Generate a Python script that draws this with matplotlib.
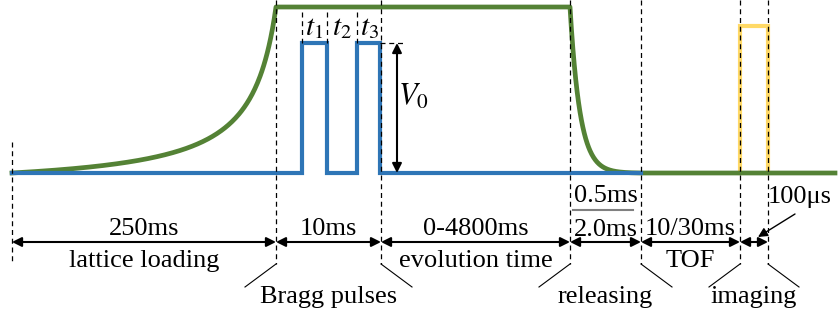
import numpy as np
import matplotlib.pyplot as plt

plt.rcParams['font.family'] = ['Liberation Serif', 'DejaVu Serif']
plt.rcParams['mathtext.fontset'] = 'stix'

# schematic timeline (drawing units, left to right)
phase_edges = [12, 276, 381, 570, 641, 740, 768]
pulse_edges = [302, 327, 357, 380]
end_x = 835

# signal levels (drawing units, top = 0)
base_level = 173
lattice_level = 7
bragg_level = 43
image_level = 26

durations = ['250ms', '10ms', '0-4800ms', '', '10/30ms', '']
phase_names = ['lattice loading', '', 'evolution time', '', 'TOF', '']
release_times = ['0.5ms', '2.0ms']
image_time = '100\u03bcs'
pulse_names = ['$t_1$', '$t_2$', '$t_3$']

green = '#548235'
blue = '#2E75B6'
yellow = '#FFD966'

fig = plt.figure(figsize=(8.39, 3.18), dpi=100)
ax = fig.add_axes([0, 0, 1, 1])
ax.set_xlim(0, 839)
ax.set_ylim(318, 0)
ax.axis('off')

# lattice depth: ramp up, hold, release
t0, t1, t2, t3 = phase_edges[0], phase_edges[1], phase_edges[3], phase_edges[4]
u = np.linspace(0, t1 - t0, 300)
d = (t1 - t0) + 26
g = (1 / (d - u) - 1 / d) / (1 / (d - (t1 - t0)) - 1 / d)
x_up = t0 + u
y_up = base_level - (base_level - lattice_level) * g
v = np.linspace(0, t3 - t2, 200)
x_down = t2 + v
y_down = lattice_level + (base_level - lattice_level) * (1 - np.exp(-v / 10)) / (1 - np.exp(-(t3 - t2) / 10))
gx = np.concatenate([x_up, [t2], x_down, [end_x]])
gy = np.concatenate([y_up, [lattice_level], y_down, [base_level]])

# Bragg pulses
p = pulse_edges
bx = [t0, p[0], p[0], p[1], p[1], p[2], p[2], p[3], p[3], t3]
by = [base_level, base_level, bragg_level, bragg_level, base_level,
      base_level, bragg_level, bragg_level, base_level, base_level]

# imaging pulse
i0, i1 = phase_edges[5], phase_edges[6]
yx = [i0, i0, i1, i1]
yy = [base_level, image_level, image_level, base_level]

ax.plot(yx, yy, color=yellow, lw=3, zorder=2, solid_joinstyle='miter')
ax.plot(gx, gy, color=green, lw=3.4, zorder=3)
ax.plot(bx, by, color=blue, lw=3, zorder=4, solid_joinstyle='miter')

dash = dict(color='black', lw=0.9, ls=(0, (4, 3)), zorder=6)
ax.plot([t0, t0], [142, 262], **dash)
for xe in phase_edges[1:]:
    ax.plot([xe, xe], [0, 264], **dash)
for xe in [p[0], p[1], p[2]]:
    ax.plot([xe, xe], [12, bragg_level], **dash)
ax.plot([p[3], 404], [bragg_level, bragg_level], **dash)

# V0 arrow
ax.annotate('', xy=(397, bragg_level), xytext=(397, base_level),
            arrowprops=dict(arrowstyle='<|-|>', color='black', lw=1.5,
                            mutation_scale=14, shrinkA=0, shrinkB=0), zorder=7)
ax.text(413, 97, '$V_0$', fontsize=22, ha='center', va='center')

for name, xc in zip(pulse_names, [314, 342, 369]):
    ax.text(xc, 28, name, fontsize=21, ha='center', va='center')

# duration arrows
arrow_y = 242
for a, b in zip(phase_edges[:-1], phase_edges[1:]):
    ax.annotate('', xy=(b, arrow_y), xytext=(a, arrow_y),
                arrowprops=dict(arrowstyle='<|-|>', color='black', lw=1.5,
                                mutation_scale=14, shrinkA=0, shrinkB=0))
for a, b, dur, name in zip(phase_edges[:-1], phase_edges[1:], durations, phase_names):
    xc = (a + b) / 2
    ax.text(xc, 235, dur, fontsize=19, ha='center', va='baseline')
    ax.text(xc, 267, name, fontsize=19, ha='center', va='baseline')

rc = (phase_edges[3] + phase_edges[4]) / 2
ax.text(rc, 202, release_times[0], fontsize=19, ha='center', va='baseline')
ax.plot([573, 633], [210, 210], color='#808080', lw=1.5)
ax.text(rc, 236, release_times[1], fontsize=19, ha='center', va='baseline')

ax.text(800, 203, image_time, fontsize=19, ha='center', va='baseline')
ax.annotate('', xy=(758, 237), xytext=(795, 214),
            arrowprops=dict(arrowstyle='-|>', color='black', lw=1,
                            mutation_scale=14, shrinkA=0, shrinkB=0))

# bottom labels with slanted guides
groups = [(phase_edges[1], phase_edges[2], 'Bragg pulses'),
          (phase_edges[3], phase_edges[4], 'releasing'),
          (phase_edges[5], phase_edges[6], 'imaging')]
for a, b, name in groups:
    ax.plot([a, a - 31], [264, 287], color='black', lw=0.8)
    ax.plot([b, b + 31], [264, 287], color='black', lw=0.8)
    ax.text((a + b) / 2, 303, name, fontsize=19, ha='center', va='baseline')

fig.savefig('out.png', dpi=100)
